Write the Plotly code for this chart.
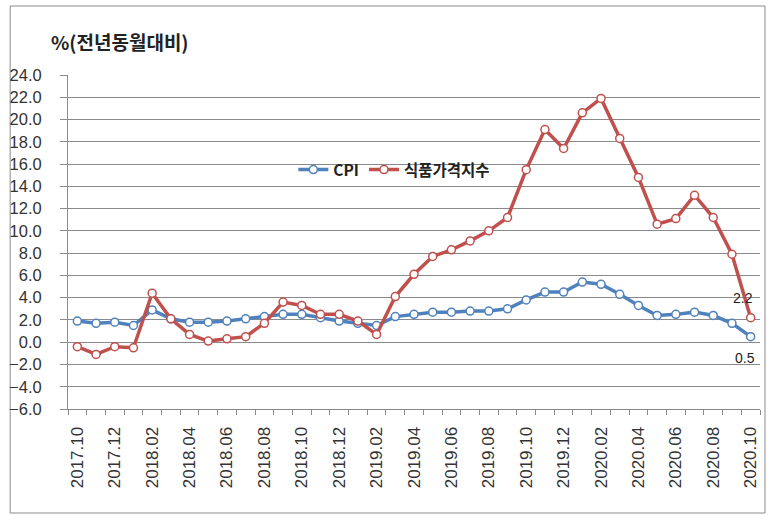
import plotly.graph_objects as go

months = ["2017.10","2017.11","2017.12","2018.01","2018.02","2018.03","2018.04","2018.05","2018.06",
          "2018.07","2018.08","2018.09","2018.10","2018.11","2018.12","2019.01","2019.02","2019.03",
          "2019.04","2019.05","2019.06","2019.07","2019.08","2019.09","2019.10","2019.11","2019.12",
          "2020.01","2020.02","2020.03","2020.04","2020.05","2020.06","2020.07","2020.08","2020.09","2020.10"]
cpi = [1.9,1.7,1.8,1.5,2.9,2.1,1.8,1.8,1.9,2.1,2.3,2.5,2.5,2.2,1.9,1.7,1.5,2.3,2.5,2.7,2.7,2.8,2.8,
       3.0,3.8,4.5,4.5,5.4,5.2,4.3,3.3,2.4,2.5,2.7,2.4,1.7,0.5]
food = [-0.4,-1.1,-0.4,-0.5,4.4,2.1,0.7,0.1,0.3,0.5,1.7,3.6,3.3,2.5,2.5,1.9,0.7,4.1,6.1,7.7,8.3,9.1,
        10.0,11.2,15.5,19.1,17.4,20.6,21.9,18.3,14.8,10.6,11.1,13.2,11.2,7.9,2.2]
series_names = ["CPI", "식품가격지수"]
y_ticks = [-6, -4, -2, 0, 2, 4, 6, 8, 10, 12, 14, 16, 18, 20, 22, 24]

W, H = 769, 515
L, R, T, B = 66, 9, 75, 106
pw, ph = W - L - R, H - T - B

def px_x(x):
    return (x - L) / pw

def px_y(y):
    return (H - B - y) / ph

FONT = "Noto Sans CJK KR, Noto Sans, sans-serif"
TICKFONT = "Liberation Sans, Arial, sans-serif"

fig = go.Figure()
fig.add_trace(go.Scatter(
    x=months, y=cpi, name=series_names[0], mode="lines+markers",
    line=dict(color="#4F81BD", width=3.5),
    marker=dict(symbol="circle", size=8, color="white", line=dict(color="#4F81BD", width=1.5)),
))
fig.add_trace(go.Scatter(
    x=months, y=food, name=series_names[1], mode="lines+markers",
    line=dict(color="#C0504D", width=3.5),
    marker=dict(symbol="circle", size=8, color="white", line=dict(color="#C0504D", width=1.5)),
))

last = len(months) - 1
fig.add_annotation(x=last, y=food[-1], text=f"{food[-1]:.1f}", showarrow=False,
                   yshift=20, xshift=-8, font=dict(family=TICKFONT, size=14, color="#222"))
fig.add_annotation(x=last, y=cpi[-1], text=f"{cpi[-1]:.1f}", showarrow=False,
                   yshift=-21, xshift=-6, font=dict(family=TICKFONT, size=14, color="#222"))

fig.add_annotation(xref="paper", yref="paper", x=px_x(47), y=px_y(42), xanchor="left", yanchor="middle",
                   text="<b>%(전년동월대비)</b>", showarrow=False,
                   font=dict(family=FONT, size=19, color="#222"))

fig.add_shape(type="rect", xref="paper", yref="paper",
              x0=px_x(8), x1=px_x(765), y0=px_y(513), y1=px_y(6),
              line=dict(color="#8a8a8a", width=1), layer="below")

fig.update_layout(
    width=W, height=H,
    margin=dict(l=L, r=R, t=T, b=B),
    paper_bgcolor="white", plot_bgcolor="white",
    showlegend=True,
    legend=dict(orientation="h", x=px_x(292), y=px_y(170), xanchor="left", yanchor="middle",
                font=dict(family=FONT, size=15.5, color="#222", weight="bold"), bgcolor="rgba(0,0,0,0)",
                itemwidth=30, tracegroupgap=0),
    xaxis=dict(
        type="category", range=[-0.5, len(months) - 0.5],
        tickvals=months, ticktext=[m if i % 2 == 0 else "" for i, m in enumerate(months)],
        tickson="boundaries", ticks="outside", ticklen=5, tickcolor="#8a8a8a",
        tickangle=-90, tickfont=dict(family=TICKFONT, size=17, color="#333"),
        ticklabelstandoff=10,
        showline=True, linecolor="#8a8a8a", linewidth=1, showgrid=False, zeroline=False,
    ),
    yaxis=dict(
        range=[-6, 24], tickvals=y_ticks, tickformat=".1f",
        ticks="outside", ticklen=7, tickcolor="#8a8a8a",
        tickfont=dict(family=TICKFONT, size=16.5, color="#333"),
        ticklabelstandoff=15,
        showline=True, linecolor="#8a8a8a", linewidth=1,
        showgrid=True, gridcolor="#8a8a8a", gridwidth=1, zeroline=False,
    ),
)

fig.write_html("out.html", config={"displayModeBar": False},
               post_script="document.body.style.margin='0';")
